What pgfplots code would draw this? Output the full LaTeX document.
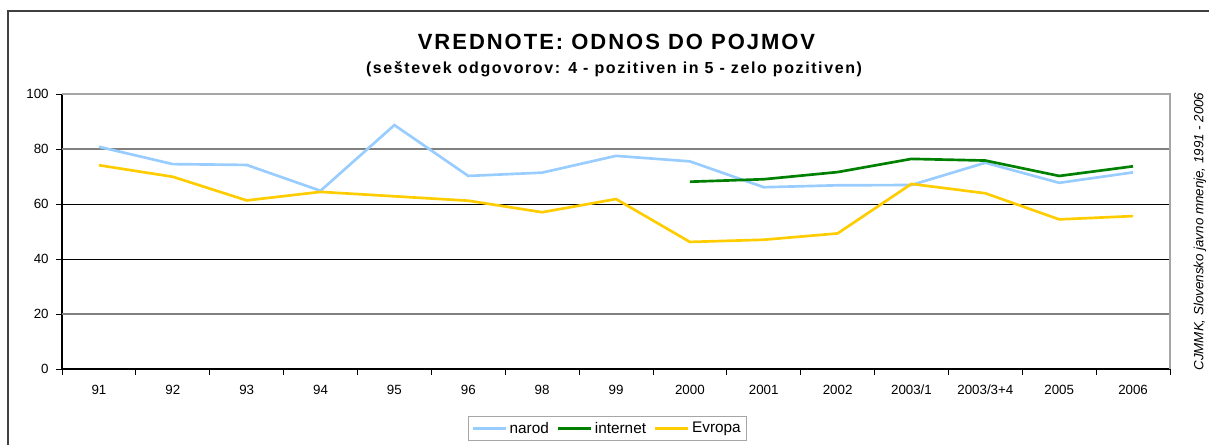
\documentclass[border=0pt]{standalone}
\usepackage{fontspec}
\setmainfont{Liberation Sans}
\newfontfamily\titlefont[LetterSpace=9]{Liberation Sans}
\newfontfamily\subfont[LetterSpace=10]{Liberation Sans}
\usepackage{pgfplots}
\pgfplotsset{compat=1.18}
\definecolor{narodc}{HTML}{99CCFF}
\definecolor{internetc}{HTML}{008000}
\definecolor{evropac}{HTML}{FFCC00}
\pgfplotstableread{
x narod evropa
0 80.8 74.1
1 74.5 69.9
2 74.2 61.3
3 64.8 64.4
4 88.7 62.8
5 70.2 61.2
6 71.4 57.0
7 77.5 61.8
8 75.5 46.2
9 66.1 47.0
10 66.8 49.3
11 66.9 67.3
12 75.0 63.9
13 67.7 54.4
14 71.5 55.6
}\dataA
\pgfplotstableread{
x internet
8 68.1
9 69.0
10 71.6
11 76.4
12 75.8
13 70.2
14 73.7
}\dataB
\begin{document}
\begin{tikzpicture}[x=0.75pt,y=0.75pt]
\path[use as bounding box] (0,0) rectangle (1209,445);
\draw[black!75, line width=1.5pt] (8,0) -- (8,434) -- (1209,434);
\node[font=\titlefont\bfseries\fontsize{16.5}{19}\selectfont] at (616.5,403) {VREDNOTE: ODNOS DO POJMOV};
\node[font=\subfont\bfseries\fontsize{12}{14}\selectfont] at (614,376) {(seštevek odgovorov: 4 - pozitiven in 5 - zelo pozitiven)};
\node[rotate=90, font=\itshape\fontsize{10}{12}\selectfont] at (1200,213.5) {CJMMK, Slovensko javno mnenje, 1991 - 2006};
\begin{axis}[
  at={(46.5pt,57pt)}, anchor=south west,
  width=831pt, height=206.25pt, scale only axis,
  xmin=-0.5, xmax=14.5, ymin=0, ymax=100,
  axis lines*=left,
  axis line style={-, black, line width=0.8pt},
  tick align=outside,
  major tick length=4.5pt,
  tick style={black, line width=0.6pt},
  xtick={-0.5,0.5,1.5,2.5,3.5,4.5,5.5,6.5,7.5,8.5,9.5,10.5,11.5,12.5,13.5,14.5},
  xticklabels={91,92,93,94,95,96,98,99,2000,2001,2002,2003/1,2003/3+4,2005,2006,{}},
  xticklabel style={xshift=27.7pt, yshift=-4pt},
  ytick={0,40,60},
  extra y ticks={20,80,100},
  extra y tick style={grid style={black!50, line width=0.8pt}},
  ymajorgrids,
  grid style={black, line width=0.6pt},
  yticklabel style={xshift=-2pt},
  ticklabel style={font=\fontsize{10}{12}\selectfont},
  /pgf/number format/assume math mode=true,
  clip=false,
  legend style={at={(0.4923,-0.2164)}, anchor=center, legend columns=-1,
    draw=black!35, line width=0.8pt, font=\fontsize{11.5}{13}\selectfont,
    /tikz/every even column/.append style={column sep=4pt},
    inner sep=2pt},
  legend image code/.code={\draw[#1, line width=1.8pt] (0pt,0pt) -- (24.75pt,0pt);},
]
\addplot[narodc, line width=2pt] table[x=x, y=narod] {\dataA};
\addlegendentry{narod}
\addplot[internetc, line width=2pt] table[x=x, y=internet] {\dataB};
\addlegendentry{internet}
\addplot[evropac, line width=2pt] table[x=x, y=evropa] {\dataA};
\addlegendentry{Evropa}
\draw[black!35, line width=0.8pt] (rel axis cs:0,1) -- (rel axis cs:1,1) -- (rel axis cs:1,0);
\end{axis}
\end{tikzpicture}
\end{document}
